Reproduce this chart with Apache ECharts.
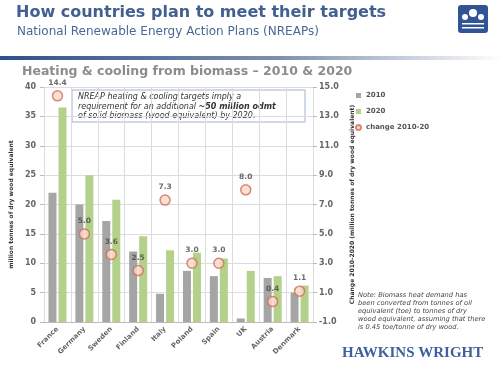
<!DOCTYPE html>
<html><head><meta charset="utf-8">
<script src="https://cdn.jsdelivr.net/npm/echarts@6/dist/echarts.min.js"></script>
<style>html,body{margin:0;padding:0;background:#fff}#c{width:503px;height:371px}</style>
</head><body><div id="c"></div>
<script>
const categories = ['France','Germany','Sweden','Finland','Italy','Poland','Spain','UK','Austria','Denmark'];
const values2010 = [22.0, 20.0, 17.2, 12.0, 4.8, 8.7, 7.8, 0.6, 7.5, 5.0];
const values2020 = [36.5, 25.0, 20.8, 14.6, 12.2, 11.8, 10.8, 8.7, 7.8, 6.2];
const change = [14.4, 5.0, 3.6, 2.5, 7.3, 3.0, 3.0, 8.0, 0.4, 1.1];
const leftTicks = [0, 5, 10, 15, 20, 25, 30, 35, 40];
const rightTicks = [-1, 1, 3, 5, 7, 9, 11, 13, 15];

const chart = echarts.init(document.getElementById('c'));
const font = 'DejaVu Sans';
chart.setOption({
  animation: false,
  textStyle: {fontFamily: font},
  grid: {left: 37, right: 190, top: 87, bottom: 49},
  legend: {
    orient: 'vertical', left: 350, top: 87, itemGap: 9, itemWidth: 5, itemHeight: 5,
    textStyle: {fontSize: 7, fontWeight: 'bold', color: '#555', fontFamily: font},
    data: [{name: '2010', icon: 'rect'}, {name: '2020', icon: 'rect'}, {name: 'change 2010-20', icon: 'circle'}]
  },
  xAxis: {
    type: 'category', data: categories,
    axisLine: {lineStyle: {color: '#bbb'}}, axisTick: {show: false},
    splitLine: {show: true, lineStyle: {color: '#dcdcdc'}},
    axisLabel: {rotate: 45, fontSize: 7, fontWeight: 'bold', color: '#666', margin: 6, interval: 0}
  },
  yAxis: [{
    type: 'value', min: leftTicks[0], max: leftTicks[leftTicks.length-1], interval: 5,
    name: 'million tonnes of dry wood equivalent', nameLocation: 'middle', nameGap: 24,
    nameTextStyle: {fontSize: 6, fontWeight: 'bold', color: '#333'},
    axisLine: {show: false}, axisTick: {show: true, length: 4, lineStyle: {color: '#bbb'}},
    splitLine: {lineStyle: {color: '#dcdcdc'}},
    axisLabel: {fontSize: 8, fontWeight: 'bold', color: '#666', margin: 8}
  }, {
    type: 'value', min: rightTicks[0], max: rightTicks[rightTicks.length-1], interval: 2,
    name: 'Change 2010-2020 (million tonnes of dry wood equivalent)', nameLocation: 'middle', nameGap: 26,
    nameRotate: 90,
    nameTextStyle: {fontSize: 6, fontWeight: 'bold', color: '#333'},
    axisLine: {show: false}, axisTick: {show: true, length: 4, lineStyle: {color: '#bbb'}},
    splitLine: {show: false},
    axisLabel: {fontSize: 8, fontWeight: 'bold', color: '#666', margin: 6, formatter: v => v.toFixed(1)}
  }],
  series: [{
    name: '2010', type: 'bar', data: values2010, barWidth: 8, barGap: '25%',
    itemStyle: {color: '#a5a5a5'}
  }, {
    name: '2020', type: 'bar', data: values2020, barWidth: 8,
    itemStyle: {color: '#b4d18b'}
  }, {
    name: 'change 2010-20', type: 'scatter', yAxisIndex: 1, data: change, symbolSize: 10,
    itemStyle: {color: '#f6d8cb', borderColor: '#d26b55', borderWidth: 1.5},
    label: {show: true, position: 'top', distance: 3, fontSize: 7.5, fontWeight: 'bold', color: '#444',
      formatter: p => p.value.toFixed(1)}
  }],
  graphic: [
    {type: 'text', left: 16, top: 5, style: {text: 'How countries plan to meet their targets', font: 'bold 16px "DejaVu Sans"', fill: '#42608f'}},
    {type: 'text', left: 17, top: 26, style: {text: 'National Renewable Energy Action Plans (NREAPs)', font: '12px "DejaVu Sans"', fill: '#4a6896'}},
    {type: 'rect', shape: {x: 0, y: 56, width: 503, height: 4},
      style: {fill: new echarts.graphic.LinearGradient(0, 0, 1, 0, [{offset: 0, color: '#2f5188'}, {offset: 0.55, color: '#7c8fae'}, {offset: 1, color: '#ffffff'}])}},
    {type: 'group', left: 458, top: 5, children: [
      {type: 'rect', shape: {x: 0, y: 0, width: 30, height: 28, r: 3}, style: {fill: '#2f5597'}},
      {type: 'circle', shape: {cx: 15, cy: 8, r: 4}, style: {fill: '#fff'}},
      {type: 'circle', shape: {cx: 7, cy: 12, r: 3}, style: {fill: '#fff'}},
      {type: 'circle', shape: {cx: 23, cy: 12, r: 3}, style: {fill: '#fff'}},
      {type: 'rect', shape: {x: 4, y: 18, width: 22, height: 1.5}, style: {fill: '#fff'}},
      {type: 'rect', shape: {x: 4, y: 22, width: 22, height: 1.5}, style: {fill: '#fff'}}
    ]},
    {type: 'text', left: 22, top: 65, style: {text: 'Heating & cooling from biomass \u2013 2010 & 2020', font: 'bold 12.5px "DejaVu Sans"', fill: '#8c8c8c'}},
    {type: 'rect', shape: {x: 72, y: 90, width: 233, height: 32}, style: {fill: '#fff', stroke: '#9fb2d3', lineWidth: 1}},
    {type: 'text', left: 78, top: 93, style: {
      rich: {i: {font: 'italic 8px "DejaVu Sans"', fill: '#333', lineHeight: 9.5}, b: {font: 'bold italic 8px "DejaVu Sans"', fill: '#333', lineHeight: 9.5}},
      text: '{i|NREAP heating & cooling targets imply a}\n{i|requirement for an additional }{b|~50 million odmt}\n{i|of solid biomass (wood equivalent) by 2020.}'}},
    {type: 'text', left: 358, top: 291, style: {text: 'Note: Biomass heat demand has\nbeen converted from tonnes of oil\nequivalent (toe) to tonnes of dry\nwood equivalent, assuming that there\nis 0.45 toe/tonne of dry wood.',
      font: 'italic 6.7px "DejaVu Sans"', fill: '#444', lineHeight: 8}},
    {type: 'text', left: 342, top: 346, style: {text: 'HAWKINS WRIGHT', font: 'bold 15px "Liberation Serif"', fill: '#3f5f9f'}}
  ]
});
</script></body></html>
